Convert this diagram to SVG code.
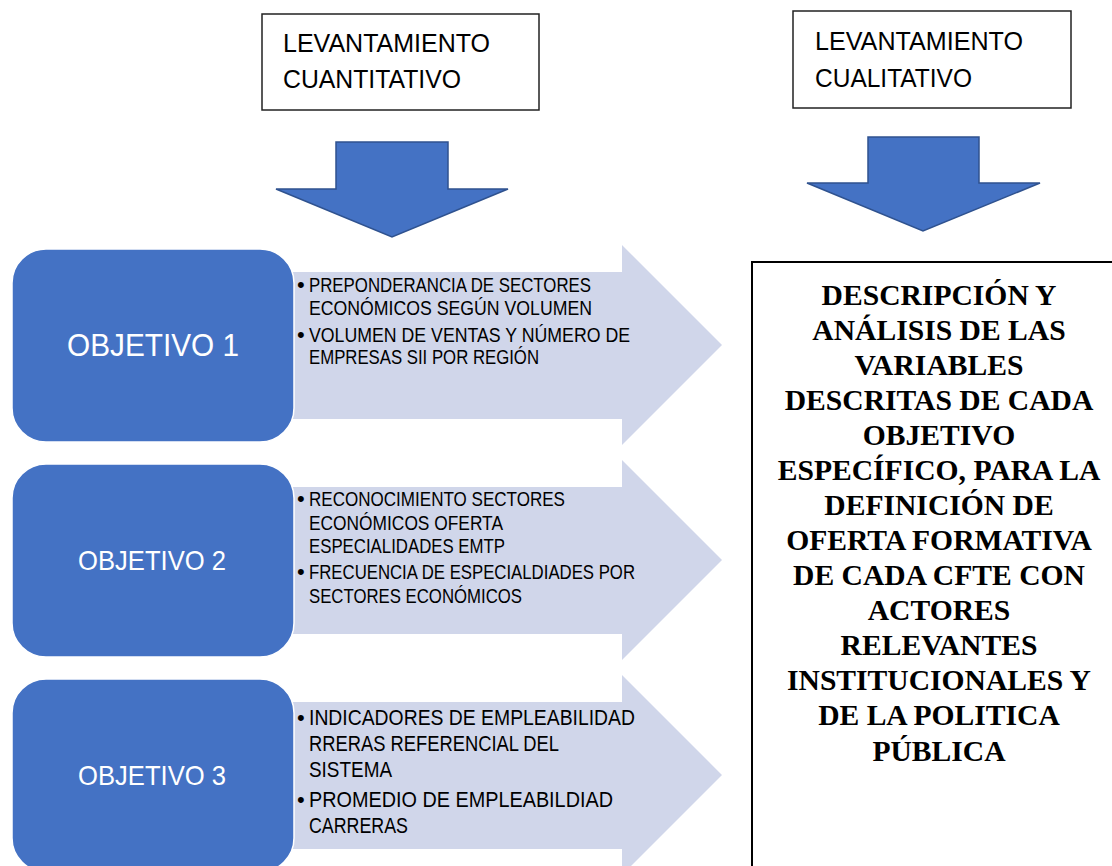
<svg xmlns="http://www.w3.org/2000/svg" width="1112" height="866" viewBox="0 0 1112 866">
<style>
.hbox{fill:#fff;stroke:#222;stroke-width:1.5}
.htxt{font-family:"Liberation Sans",Arial,sans-serif;font-size:26px;fill:#000}
.down{fill:#4472C4;stroke:#2F528F;stroke-width:1.5}
.obj{fill:#4472C4;stroke:#fff;stroke-width:1.5}
.otxt{font-family:"Liberation Sans",Arial,sans-serif;fill:#fff}
.big{fill:#D0D6EA}
.btxt{font-family:"Liberation Sans",Arial,sans-serif;fill:#000}
.dot{font-family:"Liberation Sans",Arial,sans-serif;fill:#000;font-size:22px}
.res{fill:#fff;stroke:#000;stroke-width:2}
.rtxt{font-family:"Liberation Serif","Times New Roman",serif;font-weight:bold;font-size:29.6px;fill:#000;text-anchor:middle}
</style>
<rect width="1112" height="866" fill="#fff"/>
<g id="cuantitativo">
<rect class="hbox" x="262" y="14" width="277" height="96"/>
<text class="htxt" x="283" y="52" textLength="207" lengthAdjust="spacingAndGlyphs">LEVANTAMIENTO</text>
<text class="htxt" x="283" y="88" textLength="178" lengthAdjust="spacingAndGlyphs">CUANTITATIVO</text>
</g>
<g id="cualitativo">
<rect class="hbox" x="793" y="11" width="278" height="97"/>
<text class="htxt" x="815" y="50" textLength="208" lengthAdjust="spacingAndGlyphs">LEVANTAMIENTO</text>
<text class="htxt" x="815" y="87" textLength="157" lengthAdjust="spacingAndGlyphs">CUALITATIVO</text>
</g>
<g id="connectors">
<polygon class="down" points="336,142 448,142 448,189 508,189 392,237 276,189 336,189"/>
<polygon class="down" points="868,137 979,137 979,183 1040,183 923,231 807,183 868,183"/>
<polygon class="big" points="290,272 622,272 622,245 722,345 622,445 622,419 290,419"/>
<polygon class="big" points="290,487 622,487 622,460 722,560 622,660 622,634 290,634"/>
<polygon class="big" points="290,702 622,702 622,675 722,775 622,875 622,849 290,849"/>
</g>
<g id="objetivo1">
<rect class="obj" x="12" y="249" width="282" height="193" rx="34"/>
<text class="otxt" x="67" y="356" font-size="32" textLength="172" lengthAdjust="spacingAndGlyphs">OBJETIVO 1</text>
<text class="dot" x="297" y="292">•</text>
<text class="dot" x="297" y="342">•</text>
<g class="btxt" font-size="20">
<text x="309" y="292" textLength="282" lengthAdjust="spacingAndGlyphs">PREPONDERANCIA DE SECTORES</text>
<text x="309" y="315" textLength="283" lengthAdjust="spacingAndGlyphs">ECONÓMICOS SEGÚN VOLUMEN</text>
<text x="309" y="342" textLength="321" lengthAdjust="spacingAndGlyphs">VOLUMEN DE VENTAS Y NÚMERO DE</text>
<text x="309" y="364" textLength="230" lengthAdjust="spacingAndGlyphs">EMPRESAS SII POR REGIÓN</text>
</g>
</g>
<g id="objetivo2">
<rect class="obj" x="12" y="464" width="282" height="193" rx="34"/>
<text class="otxt" x="78" y="570" font-size="28" textLength="148" lengthAdjust="spacingAndGlyphs">OBJETIVO 2</text>
<text class="dot" x="297" y="506">•</text>
<text class="dot" x="297" y="579">•</text>
<g class="btxt" font-size="20">
<text x="309" y="506" textLength="256" lengthAdjust="spacingAndGlyphs">RECONOCIMIENTO SECTORES</text>
<text x="309" y="530" textLength="194" lengthAdjust="spacingAndGlyphs">ECONÓMICOS OFERTA</text>
<text x="309" y="553" textLength="196" lengthAdjust="spacingAndGlyphs">ESPECIALIDADES EMTP</text>
<text x="309" y="579" textLength="326" lengthAdjust="spacingAndGlyphs">FRECUENCIA DE ESPECIALDIADES POR</text>
<text x="309" y="603" textLength="213" lengthAdjust="spacingAndGlyphs">SECTORES ECONÓMICOS</text>
</g>
</g>
<g id="objetivo3">
<rect class="obj" x="12" y="679" width="282" height="193" rx="34"/>
<text class="otxt" x="78" y="785" font-size="28" textLength="148" lengthAdjust="spacingAndGlyphs">OBJETIVO 3</text>
<text class="dot" x="297" y="725">•</text>
<text class="dot" x="297" y="807">•</text>
<g class="btxt" font-size="22">
<text x="309" y="725" textLength="326" lengthAdjust="spacingAndGlyphs">INDICADORES DE EMPLEABILIDAD</text>
<text x="309" y="751" textLength="250" lengthAdjust="spacingAndGlyphs">RRERAS REFERENCIAL DEL</text>
<text x="309" y="777" textLength="83" lengthAdjust="spacingAndGlyphs">SISTEMA</text>
<text x="309" y="807" textLength="304" lengthAdjust="spacingAndGlyphs">PROMEDIO DE EMPLEABILDIAD</text>
<text x="309" y="833" textLength="99" lengthAdjust="spacingAndGlyphs">CARRERAS</text>
</g>
</g>
<g id="resultado">
<rect class="res" x="752" y="262" width="400" height="700"/>
<text class="rtxt" x="939" y="304.5">DESCRIPCIÓN Y</text>
<text class="rtxt" x="939" y="339.6">ANÁLISIS DE LAS</text>
<text class="rtxt" x="939" y="374.7">VARIABLES</text>
<text class="rtxt" x="939" y="409.7">DESCRITAS DE CADA</text>
<text class="rtxt" x="939" y="444.8">OBJETIVO</text>
<text class="rtxt" x="939" y="479.9">ESPECÍFICO, PARA LA</text>
<text class="rtxt" x="939" y="515">DEFINICIÓN DE</text>
<text class="rtxt" x="939" y="550">OFERTA FORMATIVA</text>
<text class="rtxt" x="939" y="585.1">DE CADA CFTE CON</text>
<text class="rtxt" x="939" y="620.2">ACTORES</text>
<text class="rtxt" x="939" y="655.3">RELEVANTES</text>
<text class="rtxt" x="939" y="690.3">INSTITUCIONALES Y</text>
<text class="rtxt" x="939" y="725.4">DE LA POLITICA</text>
<text class="rtxt" x="939" y="760.5">PÚBLICA</text>
</g>
</svg>
